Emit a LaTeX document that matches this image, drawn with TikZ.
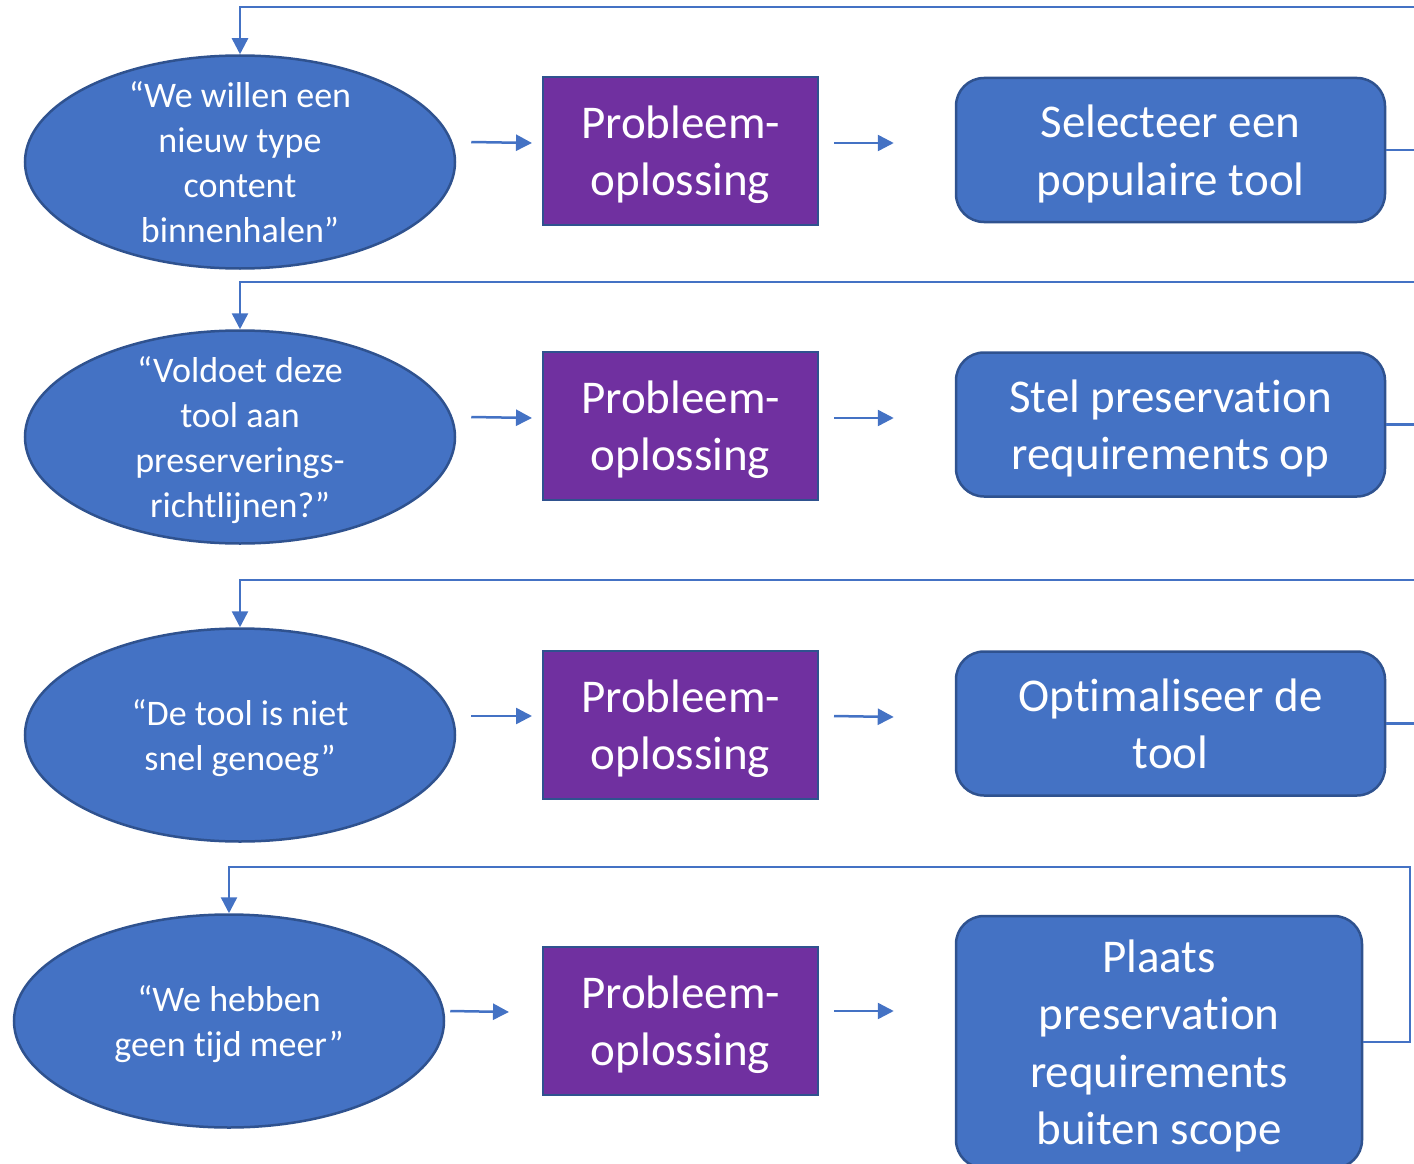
\documentclass[tikz,border=0pt]{standalone}
\usepackage{fontspec}
\setmainfont{Carlito}[Ligatures=NoCommon]
\usetikzlibrary{shapes.geometric,arrows.meta}
\definecolor{officeblue}{HTML}{4472C4}
\definecolor{darkblue}{HTML}{2F528F}
\definecolor{officepurple}{HTML}{7030A0}

\begin{document}
\begin{tikzpicture}[x=1pt,y=-1pt,
			quote/.style={ellipse,draw=darkblue,line width=2.5pt,fill=officeblue,text=white,
				minimum width=430pt,minimum height=213pt,inner xsep=0pt,inner ysep=-40pt,
				align=center,text depth=0pt,font=\fontsize{36}{45}\selectfont},
			solve/.style={rectangle,draw=darkblue,line width=2pt,fill=officepurple,text=white,
				minimum width=275pt,minimum height=148pt,align=center,text depth=0pt,
				font=\fontsize{47}{57}\selectfont},
			action/.style={rectangle,rounded corners=28pt,draw=darkblue,line width=2.5pt,
				fill=officeblue,text=white,minimum width=429pt,minimum height=144pt,
				align=center,text depth=0pt,font=\fontsize{47}{57.5}\selectfont},
			flow/.style={officeblue,line width=2.5pt,-{Triangle[length=16pt,width=16pt]}}
			]
		\useasboundingbox (0,0) rectangle (1414,1164);
		\clip (0,0) rectangle (1414,1164);
		%\draw[step=100, color=gray] (0,0) grid (1414,1164);
		\node [quote] (q1) at (240,162) {“We willen een\\nieuw type\\content\\binnenhalen”};
		\node [solve] (p1) at (680.5,151) {Probleem-\\oplossing};
		\node [action] (a1) at (1170.5,150) {Selecteer een\\populaire tool};

		\node [quote] (q2) at (240,437) {“Voldoet deze\\tool aan\\preserverings-\\richtlijnen?”};
		\node [solve] (p2) at (680.5,426) {Probleem-\\oplossing};
		\node [action] (a2) at (1170.5,424.5) {Stel preservation\\requirements op};

		\node [quote] (q3) at (240,735) {“De tool is niet\\snel genoeg”};
		\node [solve] (p3) at (680.5,725) {Probleem-\\oplossing};
		\node [action] (a3) at (1170.5,723.5) {Optimaliseer de\\tool};

		\node [quote] (q4) at (229,1021) {“We hebben\\geen tijd meer”};
		\node [solve] (p4) at (680.5,1021) {Probleem-\\oplossing};
		\node [action, minimum width=406pt, minimum height=252pt] (a4) at (1159,1042)
			{Plaats\\preservation\\requirements\\buiten scope};

		\coordinate (r1) at (1440,7);
		\coordinate (r2) at (1440,282);
		\coordinate (r3) at (1440,580);
		\coordinate (r4) at (1410,867);

		\draw [flow] ([xshift=15pt,yshift=20pt]q1.east) -- ([xshift=-10pt,yshift=8pt]p1.west);
		\draw [flow] ([xshift=15pt,yshift=8pt]p1.east) -- ([xshift=-61pt,yshift=7pt]a1.west);
		\draw [flow] (a1.east) -| (r1) -| (q1.north);

		\draw [flow] ([xshift=15pt,yshift=20pt]q2.east) -- ([xshift=-10pt,yshift=8pt]p2.west);
		\draw [flow] ([xshift=15pt,yshift=8pt]p2.east) -- ([xshift=-61pt,yshift=6.5pt]a2.west);
		\draw [flow] (a2.east) -| (r2) -| (q2.north);

		\draw [flow] ([xshift=15pt,yshift=19pt]q3.east) -- ([xshift=-10pt,yshift=9pt]p3.west);
		\draw [flow] ([xshift=15pt,yshift=9pt]p3.east) -- ([xshift=-61pt,yshift=6.5pt]a3.west);
		\draw [flow] (a3.east) -| (r3) -| (q3.north);

		\draw [flow] ([xshift=5pt,yshift=10pt]q4.east) -- ([xshift=-33pt,yshift=9pt]p4.west);
		\draw [flow] ([xshift=15pt,yshift=10pt]p4.east) -- ([xshift=-61pt,yshift=31pt]a4.west);
		\draw [flow] (a4.east) -| (r4) -| (q4.north);
\end{tikzpicture}
\end{document}
